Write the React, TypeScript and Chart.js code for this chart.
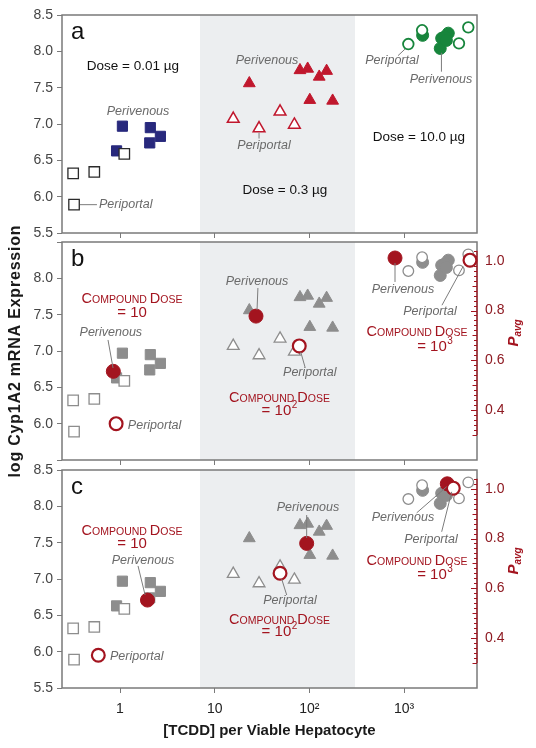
import React, { useEffect, useRef } from 'react';
import { Chart, registerables } from 'chart.js';
Chart.register(...registerables);

type Pt = [number, number];

// ---------- data ----------
const xTickValues = [1, 10, 100, 1000];
const xTickLabels = ['1', '10', '10²', '10³'];
const yTickValues = [5.5, 6.0, 6.5, 7.0, 7.5, 8.0, 8.5];
const pavgTickValues = [0.4, 0.6, 0.8, 1.0];
const shadedRange = [7, 303];

const perivenous001: Pt[] = [[1.06, 6.97], [0.92, 6.63], [2.09, 6.95], [2.06, 6.74], [2.67, 6.83]];
const periportal001: Pt[] = [[1.11, 6.59], [0.32, 6.32], [0.535, 6.34], [0.327, 5.89]];
const perivenous03: Pt[] = [[23.2, 7.56], [79.5, 7.74], [95.9, 7.76], [127, 7.65], [152, 7.73], [101, 7.33], [176, 7.32]];
const periportal03: Pt[] = [[15.7, 7.07], [29.4, 6.94], [49, 7.17], [69.4, 6.99]];
const perivenous10: Pt[] = [[1570, 8.22], [2495, 8.18], [2930, 8.25], [2700, 8.2], [2410, 8.04], [2800, 8.15]];
const periportal10: Pt[] = [[1109, 8.1], [1550, 8.29], [3800, 8.11], [4766, 8.33]];

const modelBPerivenous: Pt[] = [[0.85, 6.72], [27.3, 7.48], [802, 8.28]];
const modelBPeriportal: Pt[] = [[0.91, 6.0], [78.2, 7.07], [4966, 8.25]];
const modelCPerivenous: Pt[] = [[1.95, 6.71], [93.6, 7.49], [2860, 8.31]];
const modelCPeriportal: Pt[] = [[0.59, 5.95], [49, 7.08], [3310, 8.25]];

type Note = { t: string; x: number; y: number; kind: 'label' | 'dose' | 'caps' | 'eq'; align?: CanvasTextAlign; sup?: string };
type Lead = [number, number, number, number];

const notesA: Note[] = [
  { kind: 'dose', t: 'Dose = 0.01 µg', x: 1.37, y: 7.8 },
  { kind: 'label', t: 'Perivenous', x: 1.55, y: 7.17 },
  { kind: 'label', t: 'Periportal', x: 0.6, y: 5.89, align: 'left' },
  { kind: 'label', t: 'Perivenous', x: 35.7, y: 7.87 },
  { kind: 'label', t: 'Periportal', x: 33.2, y: 6.7 },
  { kind: 'dose', t: 'Dose = 0.3 µg', x: 55.2, y: 6.09 },
  { kind: 'label', t: 'Periportal', x: 745, y: 7.87 },
  { kind: 'label', t: 'Perivenous', x: 2455, y: 7.61 },
  { kind: 'dose', t: 'Dose = 10.0 µg', x: 1436, y: 6.82 },
];
const leadsA: Lead[] = [[0.378, 5.89, 0.571, 5.89], [29.4, 6.88, 29.4, 6.8], [1022, 8.03, 862, 7.94], [2480, 7.98, 2480, 7.72]];

const notesB: Note[] = [
  { kind: 'caps', t: 'Compound Dose', x: 1.34, y: 7.726 },
  { kind: 'eq', t: '= 10', x: 1.34, y: 7.544 },
  { kind: 'label', t: 'Perivenous', x: 0.8, y: 7.25 },
  { kind: 'label', t: 'Periportal', x: 1.21, y: 5.98, align: 'left' },
  { kind: 'label', t: 'Perivenous', x: 28, y: 7.96 },
  { kind: 'label', t: 'Periportal', x: 101, y: 6.7 },
  { kind: 'caps', t: 'Compound Dose', x: 48.3, y: 6.37 },
  { kind: 'eq', t: '= 10', sup: '2', x: 48.3, y: 6.19 },
  { kind: 'label', t: 'Perivenous', x: 973, y: 7.85 },
  { kind: 'label', t: 'Periportal', x: 1876, y: 7.55 },
  { kind: 'caps', t: 'Compound Dose', x: 1368, y: 7.28 },
  { kind: 'eq', t: '= 10', sup: '3', x: 2120, y: 7.08 },
];
const leadsB: Lead[] = [[0.747, 7.152, 0.844, 6.767], [28.6, 7.867, 28, 7.565], [81, 6.987, 89.9, 6.78], [802, 8.21, 802, 7.95], [2512, 7.63, 4188, 8.16]];

const notesC: Note[] = [
  { kind: 'caps', t: 'Compound Dose', x: 1.34, y: 7.675 },
  { kind: 'eq', t: '= 10', x: 1.34, y: 7.496 },
  { kind: 'label', t: 'Perivenous', x: 1.75, y: 7.25 },
  { kind: 'label', t: 'Periportal', x: 0.784, y: 5.93, align: 'left' },
  { kind: 'label', t: 'Perivenous', x: 96.7, y: 7.98 },
  { kind: 'label', t: 'Periportal', x: 62.4, y: 6.7 },
  { kind: 'caps', t: 'Compound Dose', x: 48.3, y: 6.45 },
  { kind: 'eq', t: '= 10', sup: '2', x: 48.3, y: 6.285 },
  { kind: 'label', t: 'Perivenous', x: 973, y: 7.85 },
  { kind: 'label', t: 'Periportal', x: 1923, y: 7.55 },
  { kind: 'caps', t: 'Compound Dose', x: 1368, y: 7.26 },
  { kind: 'eq', t: '= 10', sup: '3', x: 2120, y: 7.08 },
];
const leadsC: Lead[] = [[1.55, 7.18, 1.84, 6.78], [93.6, 7.88, 93.6, 7.565], [51, 7.0, 57.6, 6.78], [1358, 7.91, 2818, 8.27], [2495, 7.65, 3184, 8.2]];

// ---------- styles ----------
const FONT = "'Liberation Sans', Arial, Helvetica, sans-serif";
const NARROW = "'Liberation Sans Narrow', 'Liberation Sans', Arial, sans-serif";
const RED = '#a3141f';
const GRAY = '#8d8d8d';
const FRAME = '#7a7a7a';

Chart.defaults.font.family = FONT;

const toXY = (p: Pt[]) => p.map(([x, y]) => ({ x, y }));

function ds(data: Pt[], style: string, r: number, bg: string, border: string, bw: number) {
  return {
    data: toXY(data),
    pointStyle: style,
    pointRadius: r,
    backgroundColor: bg,
    borderColor: border,
    borderWidth: bw,
    showLine: false,
    clip: false,
  } as any;
}

function drawCaps(ctx: CanvasRenderingContext2D, text: string, cx: number, cy: number) {
  const runs: { s: string; size: number }[] = [];
  text.split(' ').forEach((w, i) => {
    if (i > 0) runs.push({ s: ' ', size: 10.5 });
    runs.push({ s: w[0].toUpperCase(), size: 14.5 });
    runs.push({ s: w.slice(1).toUpperCase(), size: 10.5 });
  });
  let total = 0;
  runs.forEach((r) => { ctx.font = `${r.size}px ${FONT}`; total += ctx.measureText(r.s).width; });
  let x = cx - total / 2;
  ctx.textAlign = 'left';
  ctx.textBaseline = 'alphabetic';
  ctx.fillStyle = RED;
  runs.forEach((r) => {
    ctx.font = `${r.size}px ${FONT}`;
    ctx.fillText(r.s, x, cy + 5.2);
    x += ctx.measureText(r.s).width;
  });
}

function drawEq(ctx: CanvasRenderingContext2D, base: string, sup: string | undefined, cx: number, cy: number) {
  ctx.font = `15px ${FONT}`;
  const wb = ctx.measureText(base).width;
  ctx.font = `10px ${FONT}`;
  const ws = sup ? ctx.measureText(sup).width + 0.5 : 0;
  const x0 = cx - (wb + ws) / 2;
  ctx.textAlign = 'left';
  ctx.textBaseline = 'alphabetic';
  ctx.fillStyle = RED;
  ctx.font = `15px ${FONT}`;
  ctx.fillText(base, x0, cy + 5.4);
  if (sup) {
    ctx.font = `10px ${FONT}`;
    ctx.fillText(sup, x0 + wb + 0.5, cy - 1.5);
  }
}

function makePlugin(panel: 'a' | 'b' | 'c', notes: Note[], leads: Lead[]) {
  return {
    id: 'deco' + panel,
    beforeDatasetsDraw(chart: any) {
      const { ctx, chartArea: ca, scales } = chart;
      const xs = scales.x;
      ctx.save();
      const bx0 = xs.getPixelForValue(shadedRange[0]);
      const bx1 = xs.getPixelForValue(shadedRange[1]);
      ctx.fillStyle = '#eceef0';
      ctx.fillRect(bx0, ca.top, bx1 - bx0, ca.bottom - ca.top);
      ctx.strokeStyle = FRAME;
      ctx.lineWidth = 1.5;
      ctx.strokeRect(ca.left, ca.top, ca.right - ca.left, ca.bottom - ca.top);
      if (panel !== 'a') {
        const s = scales.y2;
        const xr = ca.right;
        ctx.strokeStyle = RED;
        ctx.lineWidth = 1.2;
        ctx.beginPath();
        ctx.moveTo(xr, s.getPixelForValue(1.04));
        ctx.lineTo(xr, s.getPixelForValue(0.3));
        ctx.stroke();
        ctx.lineWidth = 1;
        for (let k = 15; k <= 52; k++) {
          const v = k / 50;
          const py = Math.round(s.getPixelForValue(v)) + 0.5;
          const len = k % 10 === 0 ? 6 : k % 5 === 0 ? 4.5 : 3;
          ctx.beginPath();
          ctx.moveTo(xr, py);
          ctx.lineTo(xr - len, py);
          ctx.stroke();
        }
      }
      ctx.restore();
    },
    afterDatasetsDraw(chart: any) {
      const { ctx, chartArea: ca, scales } = chart;
      const xs = scales.x;
      const ys = scales.y;
      ctx.save();
      ctx.strokeStyle = '#7c7c7c';
      ctx.lineWidth = 1;
      leads.forEach(([x1, y1, x2, y2]) => {
        ctx.beginPath();
        ctx.moveTo(xs.getPixelForValue(x1), ys.getPixelForValue(y1));
        ctx.lineTo(xs.getPixelForValue(x2), ys.getPixelForValue(y2));
        ctx.stroke();
      });
      notes.forEach((n) => {
        const px = xs.getPixelForValue(n.x);
        const py = ys.getPixelForValue(n.y);
        if (n.kind === 'label') {
          ctx.font = `italic 12.5px ${FONT}`;
          ctx.fillStyle = '#6a6a6a';
          ctx.textAlign = n.align || 'center';
          ctx.textBaseline = 'middle';
          ctx.fillText(n.t, px, py);
        } else if (n.kind === 'dose') {
          ctx.font = `13.5px ${FONT}`;
          ctx.fillStyle = '#111';
          ctx.textAlign = 'center';
          ctx.textBaseline = 'middle';
          ctx.fillText(n.t, px, py);
        } else if (n.kind === 'caps') {
          drawCaps(ctx, n.t, px, py);
        } else {
          drawEq(ctx, n.t, n.sup, px, py);
        }
      });
      ctx.font = `24px ${FONT}`;
      ctx.fillStyle = '#111';
      ctx.textAlign = 'left';
      ctx.textBaseline = 'alphabetic';
      ctx.fillText(panel, ca.left + 9, ca.top + 24);
      if (panel !== 'a') {
        ctx.save();
        ctx.translate(513, ca.top + 91);
        ctx.rotate(-Math.PI / 2);
        ctx.fillStyle = RED;
        ctx.font = `italic bold 15px ${FONT}`;
        const wp = ctx.measureText('P').width;
        ctx.font = `italic bold 10px ${FONT}`;
        const wa = ctx.measureText('avg').width;
        const x0 = -(wp + wa) / 2;
        ctx.textAlign = 'left';
        ctx.textBaseline = 'alphabetic';
        ctx.font = `italic bold 15px ${FONT}`;
        ctx.fillText('P', x0, 5);
        ctx.font = `italic bold 10px ${FONT}`;
        ctx.fillText('avg', x0 + wp, 8);
        ctx.restore();
      }
      if (panel === 'b') {
        ctx.save();
        ctx.translate(16, 351);
        ctx.rotate(-Math.PI / 2);
        ctx.fillStyle = '#1a1a1a';
        ctx.font = `bold 16px ${FONT}`;
        (ctx as any).letterSpacing = '0.8px';
        ctx.textAlign = 'center';
        ctx.textBaseline = 'middle';
        ctx.fillText('log Cyp1A2 mRNA Expression', 0, 0);
        ctx.restore();
      }
      ctx.restore();
    },
  };
}

function datasetsFor(panel: 'a' | 'b' | 'c') {
  if (panel === 'a') {
    return [
      ds(periportal10, 'circle', 5.3, '#ffffff', '#17853c', 1.8),
      ds(perivenous10, 'circle', 6, '#17853c', '#17853c', 1),
      ds(periportal001, 'rect', 7.4, '#ffffff', '#2a2a2a', 1.3),
      ds(perivenous001, 'rect', 7.2, '#28297d', '#28297d', 1),
      ds(periportal03, 'triangle', 6.8, '#ffffff', '#c0172d', 1.5),
      ds(perivenous03, 'triangle', 6.8, '#c0172d', '#c0172d', 1),
    ];
  }
  const mv = panel === 'b' ? modelBPerivenous : modelCPerivenous;
  const mp = panel === 'b' ? modelBPeriportal : modelCPeriportal;
  return [
    ds(mp, 'circle', 6.4, '#ffffff', RED, 2.2),
    ds(mv, 'circle', 7, RED, RED, 1),
    ds(periportal10, 'circle', 5.3, '#ffffff', GRAY, 1.3),
    ds(perivenous10, 'circle', 6, GRAY, GRAY, 1),
    ds(periportal001, 'rect', 7.4, '#ffffff', GRAY, 1.3),
    ds(perivenous001, 'rect', 7.2, GRAY, GRAY, 1),
    ds(periportal03, 'triangle', 6.8, '#ffffff', GRAY, 1.3),
    ds(perivenous03, 'triangle', 6.8, GRAY, GRAY, 1),
  ];
}

function makeConfig(panel: 'a' | 'b' | 'c'): any {
  const top = panel === 'a' ? 15 : panel === 'b' ? 242 : 470;
  const bottom = panel === 'a' ? 233 : panel === 'b' ? 460 : 688;
  const xH = panel === 'c' ? 60 : 8;
  const notes = panel === 'a' ? notesA : panel === 'b' ? notesB : notesC;
  const leads = panel === 'a' ? leadsA : panel === 'b' ? leadsB : leadsC;
  const scales: any = {
    x: {
      type: 'logarithmic',
      min: 0.244,
      max: 5890,
      afterBuildTicks: (s: any) => { s.ticks = xTickValues.map((v) => ({ value: v })); },
      afterFit: (s: any) => { s.height = xH; },
      ticks: {
        display: panel === 'c',
        autoSkip: false,
        maxRotation: 0,
        padding: 8,
        color: '#222',
        font: { size: 14, family: FONT },
        callback: (_v: any, i: number) => xTickLabels[i],
      },
      grid: { display: true, drawOnChartArea: false, drawTicks: true, tickLength: 5, tickColor: FRAME, color: FRAME },
      border: { display: false },
      title: panel === 'c'
        ? { display: true, text: '[TCDD] per Viable Hepatocyte', color: '#1a1a1a', font: { size: 15, weight: 'bold', family: FONT }, padding: { top: 0, bottom: 8 } }
        : { display: false },
    },
    y: {
      type: 'linear',
      min: 5.5,
      max: 8.5,
      afterBuildTicks: (s: any) => { s.ticks = yTickValues.map((v) => ({ value: v })); },
      afterFit: (s: any) => { s.width = 62; },
      ticks: {
        color: '#444',
        padding: 4,
        font: { size: 14, family: FONT },
        callback: (v: any) => (panel === 'b' && (v === 5.5 || v === 8.5) ? '' : Number(v).toFixed(1)),
      },
      grid: { display: true, drawOnChartArea: false, drawTicks: true, tickLength: 5, tickColor: FRAME, color: FRAME },
      border: { display: false },
    },
  };
  if (panel !== 'a') {
    scales.y2 = {
      type: 'linear',
      position: 'right',
      min: 0.2,
      max: 1.075,
      afterBuildTicks: (s: any) => { s.ticks = pavgTickValues.map((v) => ({ value: v })); },
      afterFit: (s: any) => { s.width = 59; },
      ticks: {
        color: '#8e1a22',
        padding: 8,
        font: { size: 14, family: NARROW },
        callback: (v: any) => Number(v).toFixed(1),
      },
      grid: { display: false, drawTicks: false, drawOnChartArea: false },
      border: { display: false },
    };
  }
  return {
    type: 'scatter',
    data: { datasets: datasetsFor(panel) },
    options: {
      responsive: false,
      animation: false,
      events: [],
      layout: { padding: { top, left: 0, right: panel === 'a' ? 59 : 0, bottom: 748 - bottom - xH } },
      plugins: { legend: { display: false }, tooltip: { enabled: false }, title: { display: false } },
      scales,
    },
    plugins: [makePlugin(panel, notes, leads)],
  };
}

export default function App() {
  const refA = useRef<HTMLCanvasElement>(null);
  const refB = useRef<HTMLCanvasElement>(null);
  const refC = useRef<HTMLCanvasElement>(null);
  useEffect(() => {
    const charts = [
      new Chart(refA.current as HTMLCanvasElement, makeConfig('a')),
      new Chart(refB.current as HTMLCanvasElement, makeConfig('b')),
      new Chart(refC.current as HTMLCanvasElement, makeConfig('c')),
    ];
    return () => charts.forEach((c) => c.destroy());
  }, []);
  const cs: React.CSSProperties = { position: 'absolute', left: 0, top: 0, width: 536, height: 748 };
  return (
    <div style={{ position: 'fixed', left: 0, top: 0, width: 536, height: 748, background: '#ffffff' }}>
      <canvas ref={refA} width={536} height={748} style={cs} />
      <canvas ref={refB} width={536} height={748} style={cs} />
      <canvas ref={refC} width={536} height={748} style={cs} />
    </div>
  );
}
